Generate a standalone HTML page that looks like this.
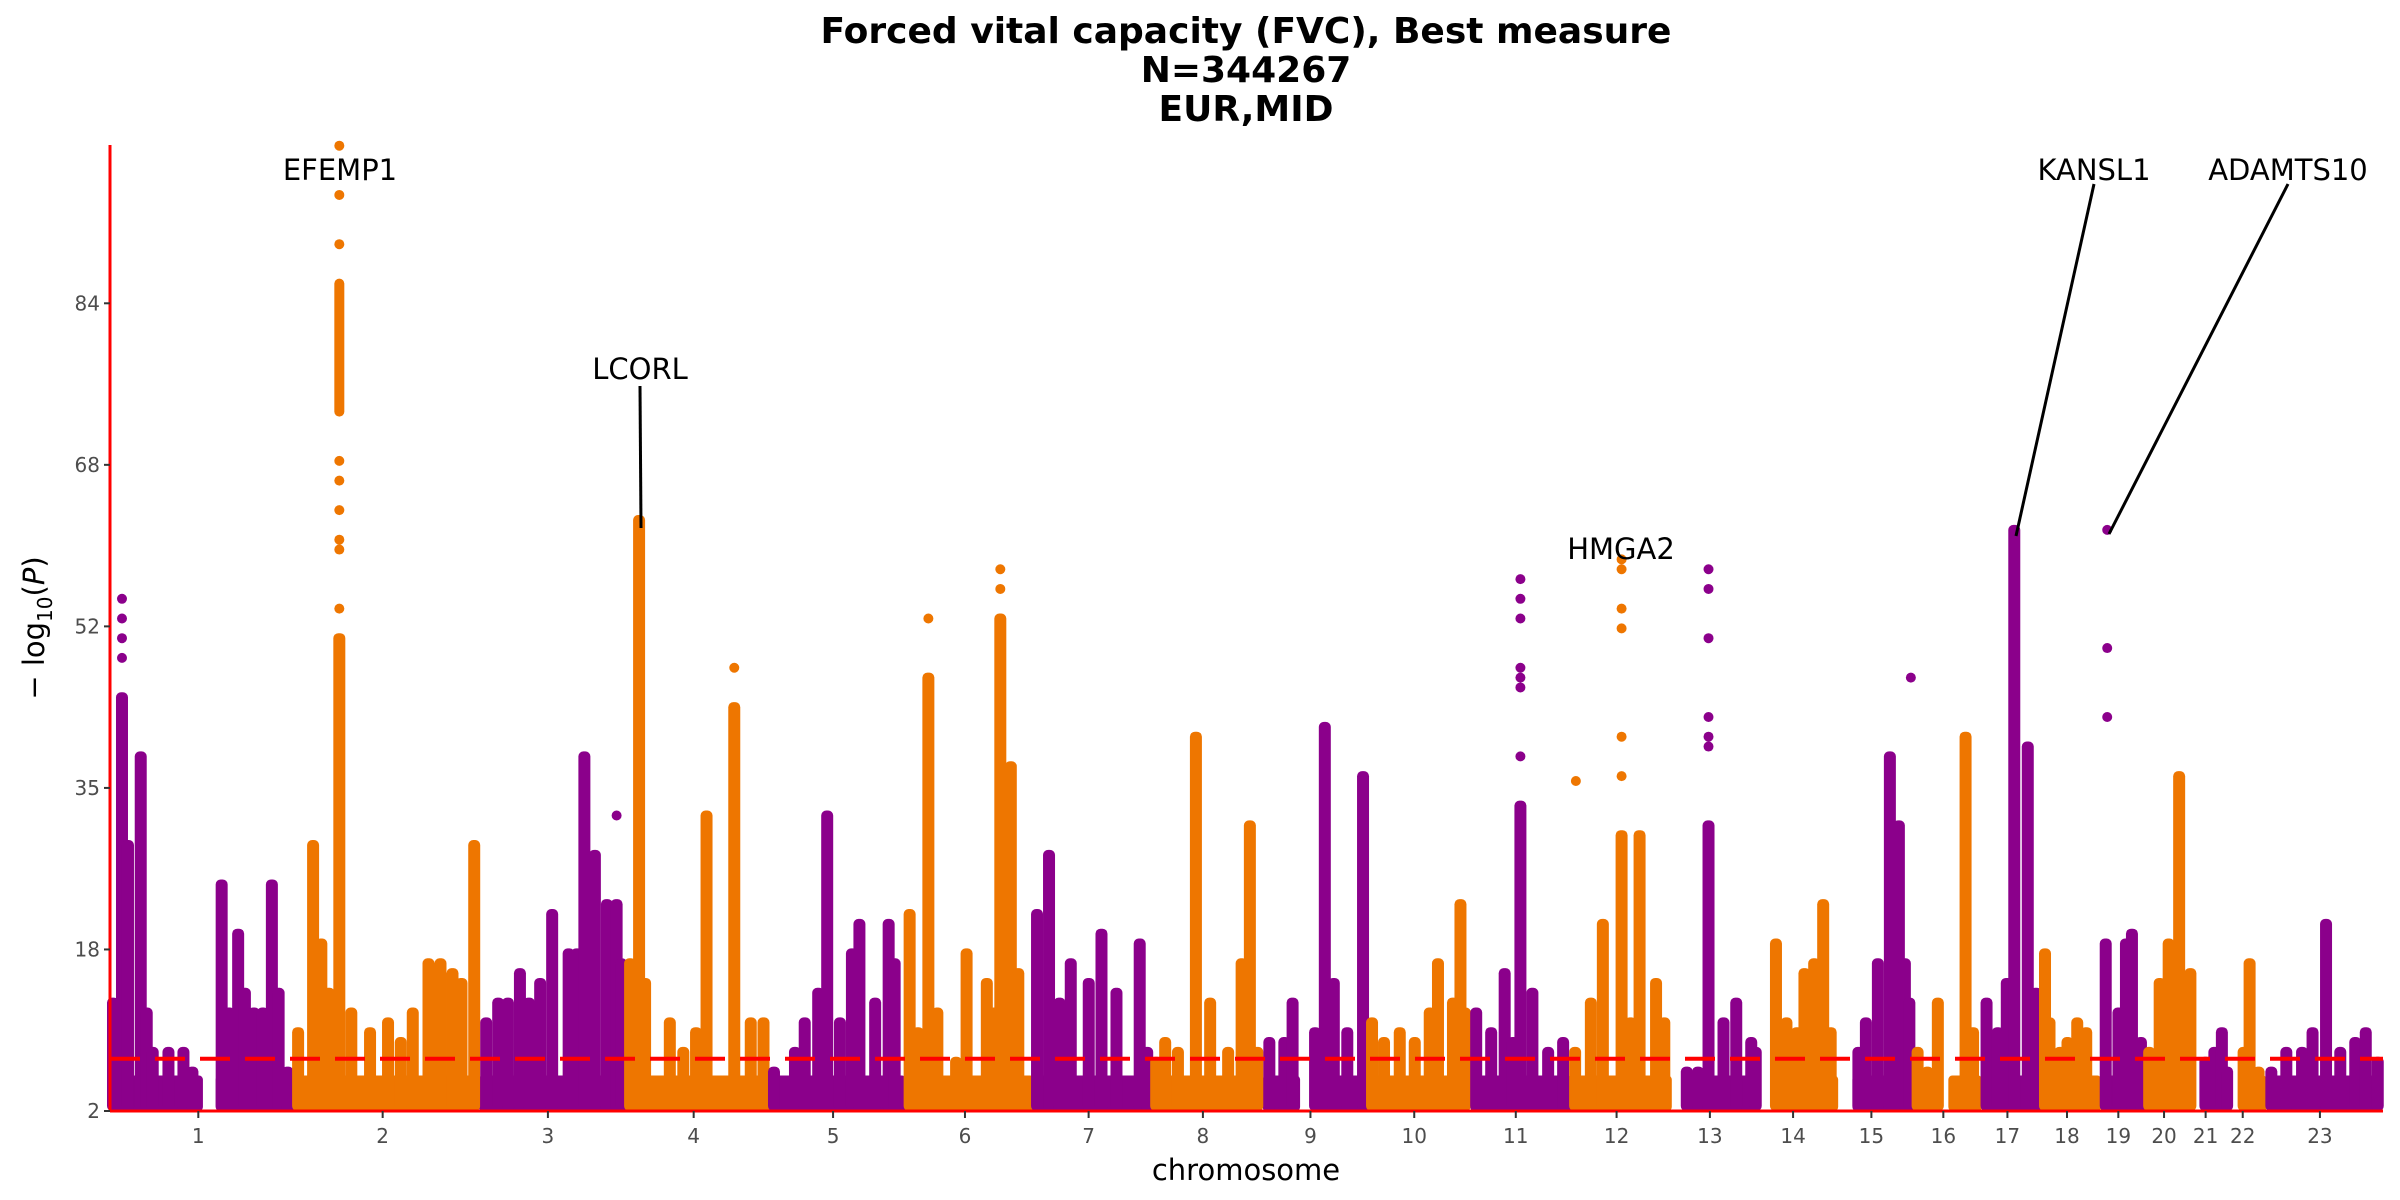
<!DOCTYPE html>
<html><head><meta charset="utf-8">
<style>
html,body{margin:0;padding:0;background:#fff;}
svg{display:block;font-family:"DejaVu Sans","Liberation Sans",sans-serif;}
</style></head>
<body>
<svg id="chart" width="2400" height="1200" viewBox="0 0 2400 1200" xmlns="http://www.w3.org/2000/svg">
  <g font-weight="bold" font-size="36" text-anchor="middle" fill="#000">
    <text x="1246" y="43">Forced vital capacity (FVC), Best measure</text>
    <text x="1246" y="82">N=344267</text>
    <text x="1246" y="121">EUR,MID</text>
  </g>
  <g id="marks"></g>
  <g id="axes"></g>
  <text x="1246" y="1180" font-size="29" text-anchor="middle" fill="#000">chromosome</text>
  <text transform="translate(44,628) rotate(-90)" font-size="29" text-anchor="middle" fill="#000">− log<tspan font-size="20" dy="8">10</tspan><tspan dy="-8">(</tspan><tspan font-style="italic">P</tspan>)</text>
</svg>
<script>
// ---- data ----
const chromLengths = [249,243,198,191,181,171,159,146,141,136,135,134,115,107,102,90,81,78,59,63,48,51,155];
const dataStart = [0,0,0,0,0,0,0,0,0,0,0,0,19,20,19,0,0,0,0,0,10,16,0];
const gapChr = [1,9,16];
const gapFrom = [124,50,35];
const gapTo = [141,66,45];
const baseLevel = 5.6;
const peakChr = [1,1,1,1,1,1,1,1,1,1,1,1,1,1,1,1,1,1,
 2,2,2,2,2,2,2,2,2,2,2,2,2,2,2,
 3,3,3,3,3,3,3,3,3,3,3,3,3,3,
 4,4,4,4,4,4,4,4,4,4,
 5,5,5,5,5,5,5,5,5,5,5,
 6,6,6,6,6,6,6,6,6,6,6,6,
 7,7,7,7,7,7,7,7,7,
 8,8,8,8,8,8,8,8,8,
 9,9,9,9,9,9,9,9,
 10,10,10,10,10,10,10,10,10,
 11,11,11,11,11,11,11,11,
 12,12,12,12,12,12,12,12,
 13,13,13,13,13,13,13,
 14,14,14,14,14,14,14,
 15,15,15,15,15,15,15,
 16,16,16,16,16,
 17,17,17,17,17,17,
 18,18,18,18,18,18,
 19,19,19,19,19,
 20,20,20,20,20,
 21,21,21,21,
 22,22,22,
 23,23,23,23,23,23,23,23,23];
const peakPos = [4,16,24,41,49,57,78,98,110,149,159,171,180,192,204,216,225,237,
 2,22,33,43,57,73,98,122,139,155,176,192,208,220,237,
 10,26,39,55,67,82,98,120,131,141,155,171,184,190,
 4,16,24,57,75,92,106,143,165,182,
 5,33,46,64,76,93,109,119,140,158,166,
 5,16,30,42,67,81,108,118,126,134,140,150,
 4,20,34,49,73,90,110,141,151,
 4,16,33,57,76,100,118,129,139,
 9,29,40,70,83,95,113,134,
 5,21,42,62,82,93,113,123,129,
 8,28,46,57,67,83,104,124,
 5,26,42,67,79,91,113,124,
 20,35,49,69,86,106,112,
 24,38,52,62,75,87,97,
 27,37,53,69,81,89,95,
 4,17,31,68,78,
 6,21,33,43,61,72,
 3,9,23,33,46,58,
 6,23,33,41,53,
 5,19,31,45,60,
 17,29,39,46,
 20,28,40,
 6,26,47,61,79,98,118,132,148];
const peakTop = [13,44,29,38,12,8,8,8,6,25,12,20,14,12,12,25,14,6,
 10,29,19,14,50,12,10,11,9,12,17,17,16,15,29,
 11,13,13,16,13,15,22,18,18,38,28,23,23,17,
 17,62,15,11,8,10,32,43,11,11,
 6,8,11,14,32,11,18,21,13,21,17,
 22,10,46,12,7,18,15,12,52,33,37,16,
 22,28,13,17,15,20,14,19,8,
 7,9,8,40,13,8,17,31,8,
 9,9,13,10,41,15,10,36,
 11,9,10,9,12,17,13,23,12,
 12,10,16,9,33,14,8,9,
 8,13,21,30,11,30,15,11,
 6,6,31,11,13,9,8,
 19,11,10,16,17,23,10,
 8,11,17,38,31,17,13,
 8,6,13,40,10,
 13,10,15,61,39,14,
 18,11,8,9,11,10,
 19,12,19,20,9,
 8,15,19,36,16,
 7,8,10,6,
 8,17,6,
 6,8,8,10,21,8,9,10,7];
const clusterChr = [2];
const clusterPos = [57];
const clusterLo = [73];
const clusterHi = [86];
const outChr = [1,1,1,1, 2,2,2,2,2,2,2,2,2, 3,4,6,6,6, 11,11,11,11,11,11,11, 12,12,12,12,12,12,12, 13,13,13,13,13,13, 15, 19,19,19];
const outPos = [16,16,16,16, 57,57,57,57,57,57,57,57,57, 184,143,30,126,126, 67,67,67,67,67,67,67, 6,67,67,67,67,67,67, 49,49,49,49,49,49, 97, 8,8,8];
const outVal = [48,50,52,54, 100,95,90,68,66,63,60,59,53, 32,47,52,55,57, 38,45,46,47,52,54,56, 35.5,36,40,51,53,57,58, 39,40,42,50,55,57, 46, 42,49,61];
const yTickValues = [2,18.4,34.8,51.2,67.6,84];
const yTickLabels = ["2","18","35","52","68","84"];
const sigLine = 7.3;

// ---- scales ----
const NS='http://www.w3.org/2000/svg';
const plotL=110, plotR=2383, plotB=1111, plotT=145;
const chromStart=[]; let acc=0;
for(const L of chromLengths){chromStart.push(acc);acc+=L;}
const genomeLen=acc;
const yPerUnit=9.85;
function xScale(chr,pos){return plotL+(chromStart[chr-1]+pos)*(plotR-plotL)/genomeLen;}
function yScale(v){return plotB-(v-2)*yPerUnit;}
function color(chr){return chr%2===1?'#8B008B':'#EE7600';}
function mk(tag,attrs,parent){const e=document.createElementNS(NS,tag);for(const k in attrs)e.setAttribute(k,attrs[k]);parent.appendChild(e);return e;}
const marks=document.getElementById('marks');
const axes=document.getElementById('axes');
const R=5;

for(let c=1;c<=chromLengths.length;c++){
  const segs=[];let s=dataStart[c-1];
  for(let g=0;g<gapChr.length;g++){ if(gapChr[g]===c){segs.push([s,gapFrom[g]]);s=gapTo[g];} }
  segs.push([s,chromLengths[c-1]]);
  for(const sg of segs){
    const x0=xScale(c,sg[0]), x1=xScale(c,sg[1]);
    const r=mk('rect',{x:x0,y:yScale(baseLevel),width:Math.max(1,x1-x0),height:plotB-yScale(baseLevel),rx:4,ry:4,fill:color(c)},marks);
    
    
  }
}
for(let i=0;i<peakChr.length;i++){
  const c=peakChr[i];const x=xScale(c,peakPos[i]);const yt=yScale(peakTop[i])-R;
  const r=mk('rect',{x:x-R-1,y:yt,width:2*R+2,height:plotB-yt,rx:R,ry:R,fill:color(c)},marks);
  
  
}
for(let i=0;i<clusterChr.length;i++){
  const c=clusterChr[i];const x=xScale(c,clusterPos[i]);const yt=yScale(clusterHi[i])-R;const yb=yScale(clusterLo[i])+R;
  const r=mk('rect',{x:x-R,y:yt,width:2*R,height:yb-yt,rx:R,ry:R,fill:color(c)},marks);
  
  
}
for(let i=0;i<outChr.length;i++){
  const c=outChr[i];
  const p=mk('circle',{cx:xScale(c,outPos[i]),cy:yScale(outVal[i]),r:R,fill:color(c)},marks);
  
  
}
const sl=mk('line',{x1:plotL,x2:plotR,y1:yScale(sigLine),y2:yScale(sigLine),stroke:'#ff0000','stroke-width':4,'stroke-dasharray':'30,15'},marks);



const ya=mk('line',{x1:plotL,x2:plotL,y1:plotT,y2:plotB+1,stroke:'#ff0000','stroke-width':3},axes);


const xa=mk('line',{x1:plotL,x2:plotR,y1:plotB,y2:plotB,stroke:'#ff0000','stroke-width':3},axes);


for(let i=0;i<yTickValues.length;i++){
  const y=yScale(yTickValues[i]);
  const t=mk('line',{x1:plotL-6,x2:plotL,y1:y,y2:y,stroke:'#333','stroke-width':2},axes);
  
  
  const l=mk('text',{x:plotL-10,y:y+7,'font-size':20,'text-anchor':'end',fill:'#4d4d4d'},axes);
  l.textContent=yTickLabels[i];
  
  
}
for(let c=1;c<=chromLengths.length;c++){
  const x=xScale(c,chromLengths[c-1]/2)-5;
  const t=mk('line',{x1:x,x2:x,y1:plotB,y2:plotB+7,stroke:'#333','stroke-width':2},axes);
  
  
  const l=mk('text',{x:x,y:plotB+32,'font-size':20,'text-anchor':'middle',fill:'#4d4d4d'},axes);
  l.textContent=String(c);
  
  
}
const annText=['EFEMP1','LCORL','HMGA2','KANSL1','ADAMTS10'];
const annX=[340,640,1621,2094,2288];
const annY=[180,379,559,180,180];
const annLine=[null,[640,386,641,528],null,[2094,184,2016,536],[2288,184,2109,534]];
for(let i=0;i<annText.length;i++){
  const t=mk('text',{x:annX[i],y:annY[i],'font-size':29,'text-anchor':'middle',fill:'#000'},axes);
  t.textContent=annText[i];
  
  
  if(annLine[i]){
    const a=annLine[i];
    const ln=mk('line',{x1:a[0],y1:a[1],x2:a[2],y2:a[3],stroke:'#000','stroke-width':3},axes);
    
    
  }
}
</script>
</body></html>
